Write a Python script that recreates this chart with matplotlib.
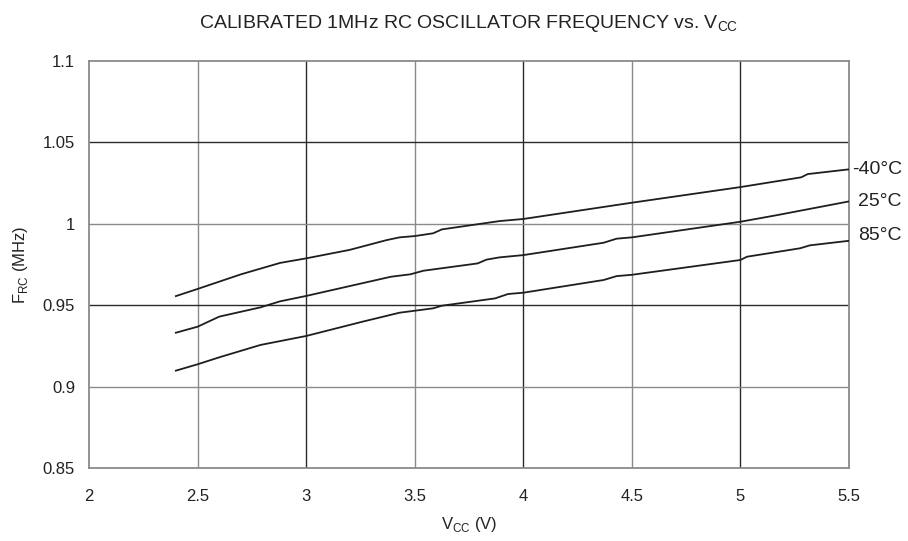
#!/usr/bin/env python3

import matplotlib
matplotlib.use("Agg")
import matplotlib.pyplot as plt

plt.rcParams["font.family"] = ["Liberation Sans", "DejaVu Sans"]
plt.rcParams["mathtext.fontset"] = "custom"
plt.rcParams["mathtext.rm"] = "Liberation Sans"

# Calibrated 1MHz RC oscillator frequency vs. Vcc
vcc_m40 = [2.4, 2.5, 2.7, 2.88, 3.0, 3.2, 3.37, 3.43, 3.5, 3.585, 3.625, 3.89, 4.0, 4.5, 5.0, 5.28, 5.31, 5.5]
f_m40 = [0.9556, 0.960, 0.969, 0.976, 0.9788, 0.984, 0.990, 0.9917, 0.9925, 0.9942, 0.9966, 1.0017, 1.003, 1.013, 1.0226, 1.0286, 1.0306, 1.0335]

vcc_25 = [2.4, 2.5, 2.6, 2.7, 2.79, 2.88, 3.0, 3.39, 3.48, 3.54, 3.79, 3.83, 3.89, 4.0, 4.37, 4.43, 4.5, 5.0, 5.17, 5.5]
f_25 = [0.9331, 0.9368, 0.943, 0.946, 0.9487, 0.9524, 0.9557, 0.9675, 0.969, 0.9712, 0.9757, 0.978, 0.9794, 0.9808, 0.9884, 0.9909, 0.9917, 1.0013, 1.0054, 1.0138]

vcc_85 = [2.4, 2.5, 2.6, 2.79, 3.0, 3.26, 3.43, 3.585, 3.625, 3.87, 3.93, 4.0, 4.37, 4.43, 4.5, 5.0, 5.03, 5.275, 5.32, 5.5]
f_85 = [0.9098, 0.9137, 0.918, 0.9256, 0.9311, 0.9399, 0.9454, 0.9481, 0.9497, 0.9542, 0.9569, 0.9577, 0.9655, 0.9679, 0.9687, 0.9778, 0.9798, 0.985, 0.9868, 0.9896]

series = [("-40°C", vcc_m40, f_m40), ("25°C", vcc_25, f_25), ("85°C", vcc_85, f_85)]
label_dy = [0, 0, 3.5]  # points, nudge for the bottom label

x_ticks = [2, 2.5, 3, 3.5, 4, 4.5, 5, 5.5]
x_tick_labels = ["2", "2.5", "3", "3.5", "4", "4.5", "5", "5.5"]
y_ticks = [0.85, 0.9, 0.95, 1.0, 1.05, 1.1]
y_tick_labels = ["0.85", "0.9", "0.95", "1", "1.05", "1.1"]

fig = plt.figure(figsize=(9.08, 5.41), dpi=100)
ax = fig.add_axes([0.098, 0.135, 0.837, 0.752])

ax.set_xlim(2, 5.5)
ax.set_ylim(0.85, 1.1)

# alternating grey / black grid lines like the original
gray = "#8a8a8a"
dark = "#2a2a2a"
for i, xv in enumerate(x_ticks[1:-1]):
    ax.axvline(xv, color=gray if i % 2 == 0 else dark, lw=1.0, zorder=1)
for i, yv in enumerate(y_ticks[1:-1]):
    ax.axhline(yv, color=gray if i % 2 == 0 else dark, lw=1.0, zorder=1)

for sp in ax.spines.values():
    sp.set_color(gray)
    sp.set_linewidth(1.3)

for (label, xs, ys), dy in zip(series, label_dy):
    ax.plot(xs, ys, color="#1e1e1e", lw=1.3, zorder=3)
    ax.annotate(label, xy=(5.5, ys[-1]), xytext=(38, dy), textcoords="offset points",
                ha="right", va="center", fontsize=14, color="#222222",
                annotation_clip=False)

ax.set_xticks(x_ticks)
ax.set_xticklabels(x_tick_labels)
ax.set_yticks(y_ticks)
ax.set_yticklabels(y_tick_labels)
ax.tick_params(axis="both", length=0, labelsize=12, colors="#222222")
ax.tick_params(axis="x", pad=15)
ax.tick_params(axis="y", pad=10)

ax.set_xlabel("V$_{\\mathregular{CC}}$ (V)", fontsize=12, color="#222222", labelpad=8)
ax.set_ylabel("F$_{\\mathregular{RC}}$ (MHz)", fontsize=12, color="#222222", labelpad=9)
ax.set_title("CALIBRATED 1MHz RC OSCILLATOR FREQUENCY vs. V$_{\\mathregular{CC}}$",
             fontsize=14, color="#222222", pad=24)

fig.savefig("out.png", dpi=100)
